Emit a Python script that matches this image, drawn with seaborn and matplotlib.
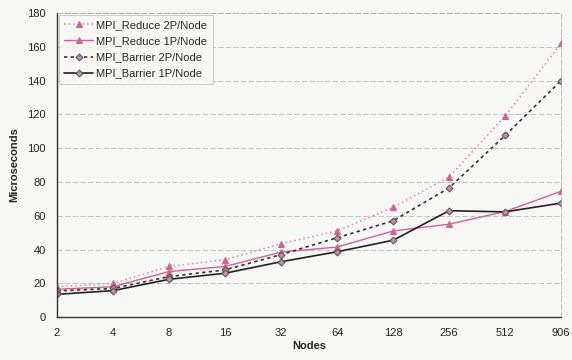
import numpy as np
import pandas as pd
import matplotlib
matplotlib.use('Agg')
import matplotlib.pyplot as plt
import seaborn as sns

nodes = ['2', '4', '8', '16', '32', '64', '128', '256', '512', '906']
reduce_2p = [18, 20, 30, 34, 43.5, 51, 65, 83, 119, 162]
reduce_1p = [16.5, 18, 27, 30, 38.5, 41.5, 51, 55, 62.5, 74.5]
barrier_2p = [15.5, 17, 24, 28, 37, 47, 57, 76.5, 107.5, 140]
barrier_1p = [13.5, 15.7, 22.4, 26, 32.8, 38.7, 45.5, 63, 62.3, 67.5]

series = {
    'MPI_Reduce 2P/Node': reduce_2p,
    'MPI_Reduce 1P/Node': reduce_1p,
    'MPI_Barrier 2P/Node': barrier_2p,
    'MPI_Barrier 1P/Node': barrier_1p,
}
rows = []
for name, vals in series.items():
    for i, v in enumerate(vals):
        rows.append({'series': name, 'pos': i, 'us': v})
df = pd.DataFrame(rows)

sns.set_style('white')
plt.rcParams['font.family'] = ['Liberation Sans', 'DejaVu Sans']

pink = '#d4628f'
dark = '#333333'
styles = {
    'MPI_Reduce 2P/Node': dict(color='#e08aa8', ls=(0, (1, 2)), marker='^', mfc=pink, mec=pink, lw=1.1),
    'MPI_Reduce 1P/Node': dict(color=pink, ls='-', marker='^', mfc=pink, mec=pink, lw=1.0),
    'MPI_Barrier 2P/Node': dict(color=dark, ls=(0, (2, 2)), marker='D', mfc='#c98aa5', mec='#555555', lw=1.2),
    'MPI_Barrier 1P/Node': dict(color='#222222', ls='-', marker='D', mfc='#c98aa5', mec='#555555', lw=1.2),
}

fig = plt.figure(figsize=(5.72, 3.6), dpi=100)
fig.patch.set_facecolor('#f7f7f5')
ax = fig.add_axes([0.0997, 0.119, 0.8813, 0.845])
ax.set_facecolor('#f7f7f5')

for name in series:
    st = styles[name]
    sub = df[df['series'] == name]
    sns.lineplot(data=sub, x='pos', y='us', ax=ax, label=name,
                 color=st['color'], linestyle=st['ls'], linewidth=st['lw'],
                 marker=st['marker'], markersize=5 if st['marker'] == '^' else 3.5,
                 markerfacecolor=st['mfc'], markeredgecolor=st['mec'])

ax.set_xlim(0, len(nodes) - 1)
ax.set_ylim(0, 180)
ax.set_xticks(range(len(nodes)))
ax.set_xticklabels(nodes)
ax.set_yticks(range(0, 181, 20))
ax.yaxis.grid(True, color='#b0b0b0', linestyle=(0, (8, 3)), linewidth=0.5)
ax.tick_params(labelsize=8, colors='#222222', length=2, pad=6)
for s in ['left', 'bottom']:
    ax.spines[s].set_color('#333333')
    ax.spines[s].set_linewidth(1.0)
for s in ['top', 'right']:
    ax.spines[s].set_color('#aaaaaa')
    ax.spines[s].set_linestyle((0, (8, 3)))
    ax.spines[s].set_linewidth(0.5)

ax.set_xlabel('Nodes', fontsize=8, fontweight='bold', labelpad=2)
ax.set_ylabel('Microseconds', fontsize=8, fontweight='bold', labelpad=6)

leg = ax.legend(loc='upper left', bbox_to_anchor=(0.0, 1.0), fontsize=8,
                frameon=True, fancybox=False, edgecolor='#aaaaaa',
                handlelength=2.6, borderpad=0.5, labelspacing=0.55,
                borderaxespad=0.15, handletextpad=0.3)
leg.get_frame().set_facecolor('#f7f7f5')
leg.get_frame().set_linewidth(0.5)

fig.savefig('out.png', dpi=100, facecolor=fig.get_facecolor())
